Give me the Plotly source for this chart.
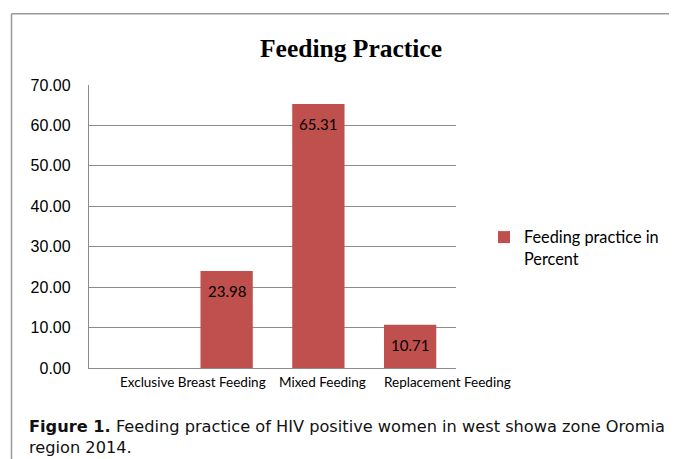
import plotly.graph_objects as go

# ---- data ----
categories = ["Exclusive Breast Feeding", "Mixed Feeding", "Replacement Feeding"]
values = [23.98, 65.31, 10.71]
series_name = "Feeding practice in<br>Percent"
title_text = "Feeding Practice"
caption = ("<b>Figure 1.</b> Feeding practice of HIV positive women in west showa zone Oromia"
           "<br>region 2014.")

# page body has an 8px margin; design in page pixels, convert below
OFF = 8
W, H = 677 - OFF, 459 - OFF
PX_L, PX_R, PX_T, PX_B = 89, 456, 85, 368  # plot area in page pixels
L, T = PX_L - OFF, PX_T - OFF
R, B = W - (PX_R - OFF), H - (PX_B - OFF)
PW, PH = PX_R - PX_L, PX_B - PX_T


def px2x(px):
    return (px - PX_L) / PW


def py2y(py):
    return (PX_B - py) / PH


BAR = "#c0504d"
GRID = "#8c8c8c"

slots = [" "] + categories  # first category slot is empty as in the original

fig = go.Figure()
fig.add_trace(go.Bar(
    x=categories, y=values, name=series_name,
    marker=dict(color=BAR, line=dict(width=0)),
    width=0.57, showlegend=True, hoverinfo="x+y",
))

annotations = []
# value labels inside bars near the top
for c, v in zip(categories, values):
    annotations.append(dict(
        x=c, y=v, xref="x", yref="y", text=f"{v:.2f}", showarrow=False,
        yanchor="middle", yshift=-20,
        font=dict(family="Lato", size=15, color="#000000"),
    ))
# category tick labels (offset as in the original)
label_shifts = [-34, 4, 37]
for c, s in zip(categories, label_shifts):
    annotations.append(dict(
        x=c, y=0, xref="x", yref="y", text=c, showarrow=False,
        yanchor="middle", yshift=-14, xshift=s,
        font=dict(family="Lato", size=13.5, color="#000000"),
    ))
# caption
annotations.append(dict(
    x=px2x(27), y=py2y(415), xref="paper", yref="paper", xanchor="left",
    yanchor="top", align="left", text=caption, showarrow=False,
    font=dict(family="DejaVu Sans", size=16.2, color="#111111"),
))

shapes = [
    dict(type="line", xref="paper", yref="paper", x0=px2x(11.5), x1=px2x(W + 20),
         y0=py2y(13.7), y1=py2y(13.7), line=dict(color="#9a9a9a", width=1.5)),
    dict(type="line", xref="paper", yref="paper", x0=px2x(11.5), x1=px2x(11.5),
         y0=py2y(13.7), y1=py2y(H + 20), line=dict(color="#9a9a9a", width=1.5)),
]

fig.update_layout(
    width=W, height=H,
    margin=dict(l=L, r=R, t=T, b=B, pad=0),
    paper_bgcolor="white", plot_bgcolor="white",
    title=dict(text=f"<b>{title_text}</b>", x=(351 - OFF) / W, xanchor="center",
               y=1 - (48 - OFF) / H, yanchor="middle", yref="container",
               font=dict(family="Liberation Serif", size=25.5, color="#000000")),
    xaxis=dict(type="category", categoryorder="array", categoryarray=slots,
               range=[-0.5, 3.5], showticklabels=False, ticks="",
               showline=True, linecolor=GRID, linewidth=1.3, showgrid=False,
               zeroline=False, fixedrange=True),
    yaxis=dict(range=[0, 70], dtick=10, tickformat=".2f", showgrid=True,
               gridcolor=GRID, gridwidth=1.3, showline=True, linecolor=GRID,
               linewidth=1.3, zeroline=False, ticks="", ticklen=0,
               tickfont=dict(family="Liberation Sans", size=16, color="#000000"),
               ticklabelstandoff=14, fixedrange=True),
    legend=dict(x=px2x(484), y=py2y(220), xanchor="left", yanchor="top",
                valign="top", bgcolor="rgba(0,0,0,0)",
                font=dict(family="Lato", size=16.3, color="#000000"),
                itemwidth=30),
    showlegend=True,
    annotations=annotations,
    shapes=shapes,
)

fig.write_html("out.html")
